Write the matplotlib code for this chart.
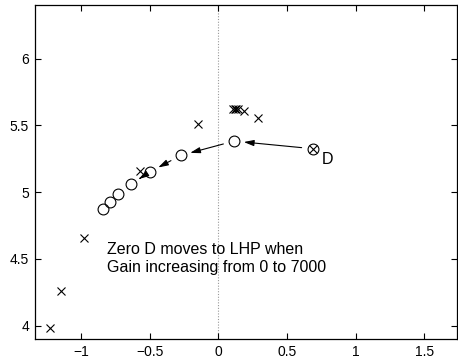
import matplotlib
matplotlib.use("Agg")
import matplotlib.pyplot as plt

plt.rcParams['font.family'] = ['Liberation Sans', 'DejaVu Sans']

# Closed-loop poles (x) and zero locus (o) in the s-plane
pole_re = [-1.23, -1.15, -0.98, -0.57, -0.15, 0.105, 0.12, 0.13, 0.14, 0.187, 0.289, 0.687]
pole_im = [3.98, 4.26, 4.66, 5.16, 5.51, 5.62, 5.625, 5.62, 5.62, 5.605, 5.558, 5.326]

zero_re = [0.687, 0.114, -0.275, -0.502, -0.641, -0.733, -0.794, -0.843]
zero_im = [5.326, 5.383, 5.276, 5.151, 5.059, 4.984, 4.927, 4.877]

# Arrows follow the zero as gain increases (index pairs into zero arrays)
arrow_steps = [(0, 1), (1, 2), (2, 3), (3, 4)]

x_ticks = [-1, -0.5, 0, 0.5, 1, 1.5]
y_ticks = [4, 4.5, 5, 5.5, 6]

fig = plt.figure(figsize=(4.58, 3.58), dpi=100)
ax = fig.add_axes([0.0758, 0.053, 0.9222, 0.932])

ax.axvline(0, color='#999999', linestyle=(0, (1, 1.5)), linewidth=0.8, zorder=0)

ax.plot(pole_re, pole_im, linestyle='none', marker='x', markersize=5.5,
        markeredgewidth=0.8, color='black')
ax.plot(zero_re, zero_im, linestyle='none', marker='o', markersize=7.8,
        markeredgewidth=0.8, markerfacecolor='none', color='black')

for a, b in arrow_steps:
    ax.annotate('', xy=(zero_re[b], zero_im[b]), xytext=(zero_re[a], zero_im[a]),
                arrowprops=dict(arrowstyle='-|>,head_length=0.6,head_width=0.18',
                                color='black', lw=0.8,
                                mutation_scale=10, shrinkA=8, shrinkB=7))

ax.text(0.752, 5.214, 'D', fontsize=11.5, ha='left', va='baseline')
ax.text(-0.814, 4.403, 'Zero D moves to LHP when\nGain increasing from 0 to 7000',
        fontsize=11.5, ha='left', va='baseline', linespacing=1.2)

ax.set_xlim(-1.34, 1.74)
ax.set_ylim(3.9, 6.4)
ax.set_xticks(x_ticks)
ax.set_xticklabels(['\u22121', '\u22120.5', '0', '0.5', '1', '1.5'])
ax.set_yticks(y_ticks)
ax.set_yticklabels(['4', '4.5', '5', '5.5', '6'])
ax.tick_params(direction='in', top=True, right=True, length=4, width=0.8,
               labelsize=10, pad=4)
for s in ax.spines.values():
    s.set_linewidth(0.9)

fig.savefig('out.png', dpi=100)
